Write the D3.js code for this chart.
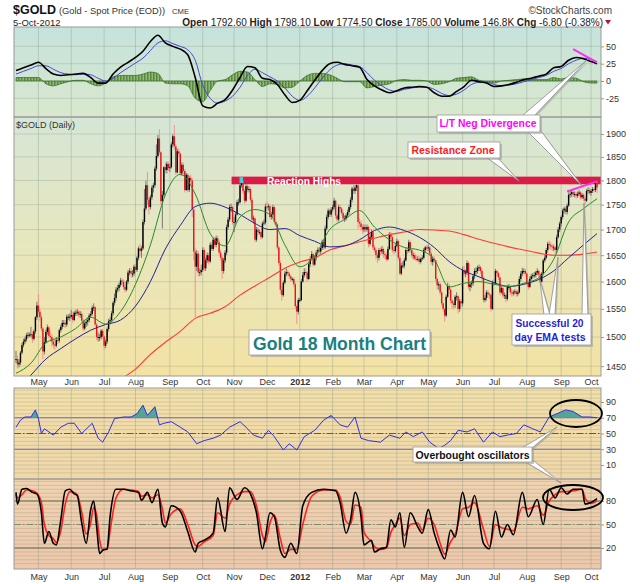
<!DOCTYPE html>
<html>
<head>
<meta charset="utf-8">
<script src="https://cdn.jsdelivr.net/npm/d3@7"></script>
<style>
  body { margin: 0; background: #fff; }
  svg text { font-family: "Liberation Sans", Arial, sans-serif; }
</style>
</head>
<body>
<svg id="chart" width="640" height="584"></svg>
<script>
// ---- data --------------------------------------------------------------
// daily closes, one row per month (Apr 2011 .. Oct 2012)
var closes = [
  1462,1453,1456,1473,1486,1492,1496,1503,1504,1504,1505,1497,1510,1535,1556,
  1545,1535,1515,1475,1491,1509,1517,1502,1500,1492,1487,1485,1495,1494,1512,1518,1525,1525,1522,1536,1536,1536,
  1539,1530,1543,1543,1545,1540,1541,1529,1515,1524,1527,1530,1538,1541,1552,1553,1522,1500,1500,1500,1511,1501,
  1485,1492,1514,1528,1530,1542,1561,1570,1585,1588,1594,1602,1600,1590,1585,1600,1617,1620,1615,1615,1628,
  1622,1645,1663,1658,1663,1715,1742,1790,1760,1745,1765,1785,1790,1825,1852,1890,1860,1757,1770,1828,1822,1835,1826,
  1828,1877,1895,1873,1817,1862,1857,1815,1833,1820,1780,1812,1780,1805,1800,1740,1657,1628,1653,1617,1618,1622,
  1660,1625,1640,1650,1638,1670,1662,1680,1670,1683,1675,1655,1645,1620,1640,1655,1705,1720,1745,1745,1715,
  1715,1730,1755,1755,1790,1795,1778,1758,1788,1780,1782,1760,1720,1722,1680,1700,1695,1695,1685,1712,1714,1746,
  1745,1747,1725,1730,1745,1715,1710,1665,1635,1585,1575,1598,1615,1618,1615,1610,1605,1605,1595,1555,1545,1566,
  1566,1600,1612,1618,1617,1605,1633,1643,1652,1632,1645,1655,1660,1657,1664,1676,1665,1702,1725,1738,1730,1740,
  1745,1758,1728,1720,1745,1742,1733,1722,1722,1728,1735,1745,1760,1783,1778,1785,1790,1715,1712,1705,1700,
  1705,1700,1705,1672,1685,1695,1665,1660,1650,1645,1660,1657,1662,1652,1650,1642,1662,1690,1685,1660,1658,1668,
  1677,1645,1615,1630,1630,1640,1660,1658,1675,1660,1650,1650,1643,1642,1643,1637,1643,1645,1660,1665,1664,
  1665,1653,1637,1643,1640,1605,1593,1595,1580,1560,1550,1538,1572,1592,1585,1565,1560,1557,1572,1573,1550,1564,1560,
  1622,1615,1617,1635,1590,1595,1597,1610,1620,1620,1626,1627,1620,1607,1566,1570,1580,1577,1575,1550,1598,
  1597,1620,1616,1608,1580,1588,1575,1575,1568,1590,1590,1580,1578,1580,1582,1577,1580,1605,1615,1620,1620,1615,
  1598,1590,1605,1610,1612,1612,1617,1620,1613,1600,1615,1640,1645,1660,1672,1670,1667,1665,1665,1660,1685,1700,1712,
  1725,1738,1742,1735,1748,1770,1772,1776,1770,1772,1768,1772,1775,1765,1770,1762,1758,1778,1780,1774,
  1778,1782,1780,1795,1785
];
var highs = [
  1476,1468,1462,1476,1490,1497,1500,1507,1509,1508,1518,1510,1513,1537,1563,
  1577,1550,1540,1518,1500,1513,1522,1520,1510,1505,1498,1495,1500,1500,1515,1522,1530,1530,1530,1540,1540,1542,
  1548,1545,1546,1548,1550,1548,1546,1545,1532,1528,1532,1535,1542,1546,1556,1560,1555,1525,1508,1505,1514,1514,
  1503,1496,1517,1532,1535,1546,1564,1578,1590,1594,1598,1607,1606,1604,1595,1603,1622,1625,1626,1622,1632,
  1634,1648,1667,1672,1668,1720,1782,1800,1818,1765,1770,1790,1795,1830,1877,1898,1911,1862,1778,1830,1838,1840,1840,
  1835,1882,1900,1920,1878,1868,1868,1860,1838,1838,1824,1816,1815,1810,1812,1805,1745,1665,1660,1658,1625,1632,
  1665,1665,1645,1655,1655,1675,1675,1685,1685,1688,1688,1680,1660,1650,1645,1660,1710,1725,1750,1752,1748,
  1725,1735,1760,1762,1795,1802,1800,1782,1792,1792,1788,1785,1765,1728,1725,1705,1705,1700,1698,1716,1720,1752,
  1755,1752,1750,1735,1750,1748,1720,1712,1668,1640,1592,1602,1620,1625,1622,1618,1612,1608,1608,1598,1558,1570,
  1570,1605,1618,1625,1625,1620,1638,1648,1658,1655,1650,1660,1665,1665,1668,1680,1680,1708,1730,1742,1742,1745,
  1750,1764,1760,1732,1750,1750,1745,1738,1728,1732,1740,1750,1765,1787,1790,1790,1792,1792,1722,1718,1710,
  1710,1710,1710,1708,1690,1700,1698,1670,1665,1655,1664,1665,1668,1665,1658,1655,1667,1695,1695,1688,1665,1672,
  1682,1680,1648,1635,1638,1645,1664,1665,1680,1678,1662,1655,1655,1650,1648,1648,1646,1650,1664,1668,1670,
  1670,1668,1656,1648,1648,1642,1608,1600,1598,1582,1562,1552,1576,1598,1595,1588,1568,1564,1575,1580,1575,1568,1568,
  1628,1630,1622,1640,1638,1600,1602,1614,1625,1627,1630,1632,1630,1624,1610,1575,1584,1585,1580,1578,1602,
  1605,1624,1622,1618,1610,1592,1590,1580,1578,1594,1596,1592,1585,1584,1586,1585,1584,1610,1620,1626,1625,1624,
  1618,1602,1610,1615,1616,1618,1620,1625,1622,1616,1618,1643,1650,1664,1676,1678,1675,1672,1670,1668,1690,1705,1716,
  1728,1742,1746,1746,1752,1775,1778,1780,1780,1777,1776,1777,1780,1778,1774,1773,1766,1782,1786,1784,
  1782,1786,1786,1798,1798
];
var lows = [
  1455,1446,1448,1452,1470,1482,1488,1492,1498,1500,1500,1490,1494,1506,1530,
  1540,1528,1510,1462,1470,1488,1504,1498,1492,1484,1480,1478,1482,1488,1490,1508,1514,1518,1516,1518,1530,1528,
  1532,1525,1528,1537,1538,1535,1534,1525,1510,1512,1518,1520,1526,1534,1538,1546,1518,1495,1492,1493,1496,1497,
  1478,1481,1488,1510,1522,1526,1538,1556,1565,1580,1582,1590,1594,1585,1580,1582,1596,1612,1608,1608,1610,
  1615,1618,1640,1650,1645,1660,1710,1738,1750,1730,1740,1760,1775,1785,1820,1848,1855,1750,1702,1765,1815,1815,1820,
  1818,1825,1870,1865,1812,1815,1850,1810,1810,1812,1775,1778,1775,1776,1792,1725,1640,1535,1620,1610,1610,1612,
  1618,1620,1620,1635,1632,1635,1658,1658,1665,1665,1670,1650,1640,1605,1615,1635,1650,1700,1715,1735,1710,
  1695,1710,1728,1748,1752,1785,1772,1752,1755,1775,1775,1755,1715,1712,1675,1676,1688,1690,1680,1682,1708,1710,
  1738,1738,1720,1720,1725,1710,1705,1660,1630,1578,1565,1572,1595,1610,1610,1605,1600,1600,1590,1550,1523,1540,
  1562,1564,1598,1608,1610,1600,1603,1628,1640,1628,1630,1640,1650,1650,1652,1660,1660,1662,1698,1720,1725,1725,
  1735,1740,1722,1715,1716,1735,1728,1718,1715,1718,1724,1730,1740,1755,1772,1772,1778,1700,1705,1698,1692,
  1695,1695,1696,1665,1668,1680,1660,1655,1642,1635,1640,1650,1652,1645,1643,1638,1640,1660,1680,1655,1652,1655,
  1665,1640,1612,1612,1625,1625,1638,1652,1655,1655,1645,1642,1640,1638,1638,1632,1634,1640,1642,1655,1658,
  1658,1648,1632,1630,1635,1600,1585,1585,1575,1555,1545,1527,1535,1570,1578,1560,1550,1550,1552,1565,1542,1545,1552,
  1555,1610,1608,1612,1585,1582,1588,1592,1605,1613,1615,1620,1615,1602,1562,1562,1565,1570,1568,1545,1548,
  1592,1595,1610,1603,1575,1578,1570,1568,1562,1565,1585,1575,1572,1574,1576,1572,1573,1578,1600,1610,1614,1610,
  1594,1585,1588,1602,1605,1607,1608,1612,1608,1595,1598,1612,1636,1642,1655,1662,1660,1658,1658,1652,1655,1682,1695,
  1706,1720,1732,1730,1730,1745,1764,1766,1765,1765,1762,1764,1768,1760,1762,1757,1750,1755,1772,1770,
  1768,1774,1775,1776,1774
];

// moving averages, read every 10 trading days
var maStep = 10;
var ema20 = [1438,1455,1490,1500,1515,1535,1523,1545,1595,1670,1770,1813,1772,1692,1668,1725,1740,1730,1670,1628,
             1648,1700,1720,1738,1705,1680,1665,1660,1642,1590,1597,1600,1595,1591,1597,1607,1642,1715,1742,1762];
var sma50 = [1410,1435,1462,1480,1497,1512,1522,1530,1555,1600,1662,1708,1746,1753,1745,1730,1712,1700,1702,1688,
             1677,1666,1668,1680,1698,1705,1698,1685,1665,1638,1620,1609,1598,1591,1595,1604,1620,1645,1670,1692];
var sma200Start = 60;
var sma200 = [1410,1428,1445,1470,1491,1510,1533,1542,1554,1575,1592,1608,1625,1637,1645,1660,1668,1676,1683,1690,
              1695,1700,1699,1697,1690,1681,1673,1666,1660,1654,1650,1650,1652,1656];

// MACD(12,26,9), read every 5 trading days
var macdStep = 5;
var macdLine = [15,19,23,27,18,10,8,9,10,11, 5,-3,-3,10,20,27,34,43,57,66,
                55,50,46,38,5,-36,-39,-32,-27,-13, 5,21,19,4,2,-5,-20,-31,-28,-14,
                1,15,25,27,24,22,20,2,-7,-13, -17,-14,-10,-9,-8,-9,-17,-22,-22,-15,
                -8,1,-1,-3,-8,-7,-5,-2,2,4, 7,10,19,21,30,34,32,28, 25];
var macdSignal = [10,14,18,22,22,17,12,10,9,10, 9,4,0,4,12,19,26,33,44,55,
                  58,54,50,45,30,-6,-25,-32,-29,-22, -9,8,17,12,6,0,-10,-22,-28,-22,
                  -10,4,16,23,25,23,21,12,1,-7, -13,-15,-12,-10,-9,-9,-12,-18,-21,-19,
                  -13,-5,-2,-2,-5,-7,-6,-4,-1,2, 5,8,14,18,25,30,33,31, 28];
var macdHist = [5,5,5,5,-4,-7,-4,-1,1,1, -4,-7,-3,6,8,8,8,10,13,11,
                -3,-4,-4,-7,-25,-30,-14,0,2,9, 14,13,2,-8,-4,-5,-10,-9,0,8,
                11,11,9,4,-1,-1,-1,-10,-8,-6, -4,1,2,1,1,0,-5,-4,-1,4,
                5,6,1,-1,-3,0,1,2,3,2, 2,2,5,3,5,4,-1,-3, -3];

// RSI(14) at turning points (trading-day index, value)
var rsiDays = [0,3,6,10,13,15,17,19,25,30,35,39,44,51,55,58,62,66,72,77,81,85,88,93,96,99,104,110,115,121,
               126,132,137,143,150,154,159,165,169,173,179,183,188,193,200,206,211,217,222,227,231,236,244,250,257,261,266,272,277,283,
               287,291,296,302,307,313,319,324,329,335,340,346,351,357,362,368,373,379,384,389];
var rsiVals = [58,67,71,71,80,69,50,56,48,58,63,63,50,63,44,39,52,69,71,71,75,86,73,84,61,63,65,58,52,37,
               41,44,48,58,65,58,48,44,54,46,29,37,29,46,54,67,73,61,58,71,44,41,39,48,44,52,46,52,39,31,
               35,41,54,52,56,39,52,46,48,50,61,56,52,71,75,80,78,71,71,70];

// slow stochastics %K / %D at turning points
var stochDays = [0,1,4,7,11,14,17,19,22,25,27,30,33,36,39,41,44,47,50,52,54,56,58,61,63,67,72,77,82,84,
                 88,91,95,98,100,104,110,115,120,122,126,132,135,140,143,148,153,157,161,165,167,170,173,177,180,184,188,192,198,206,
                 214,217,221,224,227,231,233,238,240,244,248,251,254,257,260,264,269,272,276,280,284,287,291,294,299,303,307,313,317,321,
                 325,329,333,339,343,349,353,357,361,365,369,373,379,381,385,389];
var stochK = [91,76,95,96,91,89,65,26,41,26,24,56,93,95,89,87,52,26,69,80,47,13,17,19,60,95,95,93,91,81,
              91,78,95,52,47,74,67,41,15,26,30,39,84,41,97,82,97,89,65,19,34,65,60,17,8,26,13,74,91,95,
              93,78,39,56,91,60,24,30,15,19,21,56,47,65,21,65,47,39,69,39,17,6,43,34,91,60,87,26,19,67,
              34,50,37,91,60,82,50,95,84,97,89,95,95,76,78,83];
var stochD = [88,84,88,94,93,90,78,50,36,32,27,42,76,92,91,88,66,38,52,72,62,30,18,18,42,84,95,94,92,86,
              88,84,88,70,52,64,70,50,24,22,28,36,65,58,76,88,92,92,74,36,28,52,62,32,13,18,18,50,86,94,
              94,85,54,50,75,72,40,28,22,18,20,40,50,58,36,50,52,43,58,50,26,12,28,37,70,72,78,44,22,50,
              46,44,42,72,70,74,62,80,88,92,92,93,95,84,77,80];

// divergence lines drawn by the author
var divPriceDays = [369, 389], divPriceVals = [1777, 1798];
var divMacdDays = [373, 389], divMacdVals = [46, 27];

var monthLabels = ["May","Jun","Jul","Aug","Sep","Oct","Nov","Dec","2012","Feb","Mar","Apr","May","Jun","Jul","Aug","Sep","Oct"];
var priceTicks = [1450,1500,1550,1600,1650,1700,1750,1800,1850,1900];
var macdTicks = [50,25,0,-25];
var rsiTicks = [90,70,50,30,10];
var stochTicks = [80,50,20];

// ---- layout ---------------------------------------------------------------
var L = 14, R = 601;
var svg = d3.select("#chart");
var defs = svg.append("defs");

var days = d3.utcDay.range(new Date(Date.UTC(2011, 3, 11)), new Date(Date.UTC(2012, 9, 6)))
  .filter(function(d) { var w = d.getUTCDay(); return w !== 0 && w !== 6; });
var n = days.length;
var dayKey = d3.utcFormat("%Y-%m-%d");

var x = d3.scalePoint().domain(days.map(dayKey)).range([16, 597]);
function xi(i) { return x(dayKey(days[Math.min(i, n - 1)])); }

var yM = d3.scaleLinear().domain([-52, 78]).range([117, 27]);
var yP = d3.scaleLog().domain([1433.5, 1938]).range([376, 117]);
var yR = d3.scaleLinear().domain([-7.8, 107.8]).range([479, 388]);
var yS = d3.scaleLinear().domain([-6.8, 108.1]).range([569, 479]);

var monthStarts = [];
days.forEach(function(d, i) {
  if (i > 0 && d.getUTCMonth() !== days[i - 1].getUTCMonth()) monthStarts.push(dayKey(d));
});
var labelOf = {};
monthStarts.forEach(function(k, i) { labelOf[k] = monthLabels[i]; });

function vGrad(id, stops) {
  var g = defs.append("linearGradient").attr("id", id)
    .attr("x1", 0).attr("y1", 0).attr("x2", 0).attr("y2", 1);
  stops.forEach(function(s) { g.append("stop").attr("offset", s[0]).attr("stop-color", s[1]); });
}
vGrad("gMacd", [[0, "#c5e3dc"], [1, "#d9e8cd"]]);
vGrad("gPrice", [[0, "#d5e6d6"], [0.5, "#e8e7bd"], [1, "#f3e2a3"]]);
vGrad("gRsi", [[0, "#f2e0a9"], [1, "#f0d7aa"]]);
vGrad("gStoch", [[0, "#f0d3b0"], [1, "#edc8ac"]]);

var hp = defs.append("pattern").attr("id", "histPat").attr("patternUnits", "userSpaceOnUse")
  .attr("width", 1.5).attr("height", 10);
hp.append("rect").attr("width", 1.5).attr("height", 10).attr("fill", "#a3c582");
hp.append("rect").attr("width", 0.6).attr("height", 10).attr("fill", "#2f6a1e");

function panel(name, top, bottom, grad, yScale, gridVals) {
  defs.append("clipPath").attr("id", "clip-" + name).append("rect")
    .attr("x", L).attr("y", top).attr("width", R - L).attr("height", bottom - top);
  svg.append("rect").attr("x", L).attr("y", top).attr("width", R - L).attr("height", bottom - top)
    .attr("fill", "url(#" + grad + ")");
  var g = svg.append("g").attr("clip-path", "url(#clip-" + name + ")");
  g.selectAll(".hg").data(gridVals).join("line")
    .attr("x1", L).attr("x2", R)
    .attr("y1", function(d) { return yScale(d); }).attr("y2", function(d) { return yScale(d); })
    .attr("stroke", "rgba(110,120,100,0.22)").attr("stroke-width", 1);
  g.selectAll(".vg").data(monthStarts).join("line")
    .attr("x1", function(d) { return x(d); }).attr("x2", function(d) { return x(d); })
    .attr("y1", top).attr("y2", bottom)
    .attr("stroke", "rgba(110,130,120,0.28)").attr("stroke-width", 1);
  return g;
}

var gM = panel("macd", 27, 117, "gMacd", yM, [50, 25, 0, -25]);
var gP = panel("price", 117, 376, "gPrice", yP, priceTicks);
var gR = panel("rsi", 388, 479, "gRsi", yR, d3.range(0, 106, 5));
var gS = panel("stoch", 479, 569, "gStoch", yS, d3.range(0, 106, 5));

function seqLine(daysArr, yScale, curve) {
  return d3.line()
    .x(function(d, k) { return xi(daysArr[k]); })
    .y(function(d) { return yScale(d); })
    .curve(curve || d3.curveLinear);
}
function stepDays(arr, step, start) {
  return arr.map(function(v, k) { return Math.min((start || 0) + k * step, n - 1); });
}

// ---- MACD panel ---------------------------------------------------------
var macdDays = stepDays(macdLine, macdStep);
gM.append("path").datum(macdHist)
  .attr("d", d3.area().x(function(d, k) { return xi(macdDays[k]); })
    .y0(yM(0)).y1(function(d) { return yM(d); }).curve(d3.curveMonotoneX))
  .attr("fill", "url(#histPat)").attr("stroke", "#2f6a1e").attr("stroke-width", 0.7);
gM.append("path").datum(macdSignal).attr("d", seqLine(macdDays, yM, d3.curveMonotoneX))
  .attr("fill", "none").attr("stroke", "#4646d8").attr("stroke-width", 1);
gM.append("path").datum(macdLine).attr("d", seqLine(macdDays, yM, d3.curveMonotoneX))
  .attr("fill", "none").attr("stroke", "#000").attr("stroke-width", 1.6);
gM.append("path").datum(divMacdVals).attr("d", seqLine(divMacdDays, yM))
  .attr("fill", "none").attr("stroke", "#ff2ef0").attr("stroke-width", 2);

// ---- price panel --------------------------------------------------------
var bandLeft = xi(145) - 1;
gP.append("rect").attr("x", bandLeft).attr("width", R - bandLeft)
  .attr("y", yP(1808)).attr("height", yP(1792) - yP(1808)).attr("fill", "#dc1a48");

var candles = gP.append("g");
candles.selectAll("line").data(closes).join("line")
  .attr("x1", function(d, i) { return xi(i); }).attr("x2", function(d, i) { return xi(i); })
  .attr("y1", function(d, i) { return yP(highs[i]); }).attr("y2", function(d, i) { return yP(lows[i]); })
  .attr("stroke", function(d, i) { return i > 0 && d < closes[i - 1] ? "#f08a8a" : "#6a6a6a"; })
  .attr("stroke-width", 0.9);
candles.selectAll("rect").data(closes).join("rect")
  .attr("x", function(d, i) { return xi(i) - 0.7; }).attr("width", 1.4)
  .attr("y", function(d, i) { var o = i > 0 ? closes[i - 1] : d; return yP(Math.max(o, d)); })
  .attr("height", function(d, i) {
    var o = i > 0 ? closes[i - 1] : d;
    return Math.max(1, yP(Math.min(o, d)) - yP(Math.max(o, d)));
  })
  .attr("fill", function(d, i) { return i > 0 && d < closes[i - 1] ? "#e8141a" : "#000"; });

gP.append("path").datum(sma200).attr("d", seqLine(stepDays(sma200, maStep, sma200Start), yP, d3.curveMonotoneX))
  .attr("fill", "none").attr("stroke", "#ff3a3a").attr("stroke-width", 1.1);
gP.append("path").datum(sma50).attr("d", seqLine(stepDays(sma50, maStep), yP, d3.curveMonotoneX))
  .attr("fill", "none").attr("stroke", "#22229a").attr("stroke-width", 1);
gP.append("path").datum(ema20).attr("d", seqLine(stepDays(ema20, maStep), yP, d3.curveMonotoneX))
  .attr("fill", "none").attr("stroke", "#2a8a2a").attr("stroke-width", 1);
gP.append("rect").attr("x", xi(151) - 2).attr("y", yP(1807)).attr("width", 3.5).attr("height", 6)
  .attr("fill", "#3fd0e0");
gP.append("path").datum(divPriceVals).attr("d", seqLine(divPriceDays, yP))
  .attr("fill", "none").attr("stroke", "#ff2ef0").attr("stroke-width", 2);
gP.append("text").attr("x", 16).attr("y", 127.5).text("$GOLD (Daily)")
  .attr("font-family", "DejaVu Sans Mono, monospace").attr("font-size", 9).attr("fill", "#333");
gP.append("text").attr("x", 304).attr("y", 184.5).attr("text-anchor", "middle")
  .attr("font-size", 10.5).attr("font-weight", "bold").attr("fill", "#fff")
  .attr("textLength", 74).attr("lengthAdjust", "spacingAndGlyphs").text("Reaction Highs");

// ---- RSI panel ----------------------------------------------------------
defs.append("clipPath").attr("id", "clipOver").append("rect")
  .attr("x", L).attr("y", 388).attr("width", R - L).attr("height", yR(70) - 388);
defs.append("clipPath").attr("id", "clipUnder").append("rect")
  .attr("x", L).attr("y", yR(30)).attr("width", R - L).attr("height", 479 - yR(30));
gR.append("path").datum(rsiVals)
  .attr("d", d3.area().x(function(d, k) { return xi(rsiDays[k]); }).y0(yR(70)).y1(function(d) { return yR(d); }))
  .attr("clip-path", "url(#clipOver)").attr("fill", "#55a597");
gR.append("path").datum(rsiVals)
  .attr("d", d3.area().x(function(d, k) { return xi(rsiDays[k]); }).y0(yR(30)).y1(function(d) { return yR(d); }))
  .attr("clip-path", "url(#clipUnder)").attr("fill", "#55a597");
[70, 30].forEach(function(v) {
  gR.append("line").attr("x1", L).attr("x2", R).attr("y1", yR(v)).attr("y2", yR(v))
    .attr("stroke", "#6e6ed2").attr("stroke-width", 1.2);
});
gR.append("line").attr("x1", L).attr("x2", R).attr("y1", yR(50)).attr("y2", yR(50))
  .attr("stroke", "#4c4cc8").attr("stroke-width", 1).attr("stroke-dasharray", "7,2,1.5,2");
gR.append("path").datum(rsiVals).attr("d", seqLine(rsiDays, yR))
  .attr("fill", "none").attr("stroke", "#2f2fe0").attr("stroke-width", 1);

// ---- stochastics panel ------------------------------------------------------
[80, 20].forEach(function(v) {
  gS.append("line").attr("x1", L).attr("x2", R).attr("y1", yS(v)).attr("y2", yS(v))
    .attr("stroke", "#5d6b50").attr("stroke-width", 1.2);
});
gS.append("line").attr("x1", L).attr("x2", R).attr("y1", yS(50)).attr("y2", yS(50))
  .attr("stroke", "#74906e").attr("stroke-width", 1).attr("stroke-dasharray", "7,2,1.5,2");
gS.append("path").datum(stochD).attr("d", seqLine(stochDays, yS, d3.curveMonotoneX))
  .attr("fill", "none").attr("stroke", "#ff2020").attr("stroke-width", 1.6);
gS.append("path").datum(stochK).attr("d", seqLine(stochDays, yS, d3.curveMonotoneX))
  .attr("fill", "none").attr("stroke", "#000").attr("stroke-width", 1.6);

// ---- frames & axes --------------------------------------------------------
[[27, 117], [117, 376], [388, 479], [479, 569]].forEach(function(p) {
  svg.append("rect").attr("x", L).attr("y", p[0]).attr("width", R - L).attr("height", p[1] - p[0])
    .attr("fill", "none").attr("stroke", "#9a9a9a").attr("stroke-width", 1);
});

function rightAxis(scale, ticks) {
  var g = svg.append("g").attr("transform", "translate(" + R + ",0)")
    .call(d3.axisRight(scale).tickValues(ticks).tickSize(3).tickPadding(2)
      .tickFormat(function(d) { return String(d); }));
  g.select(".domain").remove();
  g.selectAll("line").attr("stroke", "#999");
  g.selectAll("text").attr("font-size", 9).attr("fill", "#333")
    .attr("font-family", "Liberation Sans, Arial, sans-serif");
}
rightAxis(yM, macdTicks);
rightAxis(yP, priceTicks);
rightAxis(yR, rsiTicks);
rightAxis(yS, stochTicks);

function monthAxis(yPos, pad) {
  var g = svg.append("g").attr("transform", "translate(0," + yPos + ")")
    .call(d3.axisBottom(x).tickValues(monthStarts).tickSize(0).tickPadding(pad)
      .tickFormat(function(k) { return labelOf[k]; }));
  g.select(".domain").remove();
  g.selectAll("text").attr("font-size", 9).attr("fill", "#333")
    .attr("font-family", "Liberation Sans, Arial, sans-serif")
    .attr("font-weight", function(k) { return labelOf[k] === "2012" ? "bold" : null; });
}
monthAxis(376, 3);
monthAxis(569, 5);

// ---- header ---------------------------------------------------------------
svg.append("text").attr("x", 13).attr("y", 13.5).attr("font-size", 12).attr("font-weight", "bold")
  .attr("fill", "#111").attr("textLength", 43).attr("lengthAdjust", "spacingAndGlyphs").text("$GOLD");
svg.append("text").attr("x", 59).attr("y", 13.5).attr("font-size", 9.5).attr("fill", "#333")
  .attr("textLength", 106).attr("lengthAdjust", "spacingAndGlyphs").text("(Gold - Spot Price (EOD))");
svg.append("text").attr("x", 172).attr("y", 13.5).attr("font-size", 7.5).attr("fill", "#333")
  .attr("textLength", 17).attr("lengthAdjust", "spacingAndGlyphs").text("CME");
svg.append("text").attr("x", 612).attr("y", 13.5).attr("text-anchor", "end").attr("font-size", 10)
  .attr("fill", "#444").text("\u00a9StockCharts.com");
svg.append("text").attr("x", 13).attr("y", 25.5).attr("font-size", 9.5).attr("fill", "#222").text("5-Oct-2012");

var quote = [["Open", "1792.60"], ["High", "1798.10"], ["Low", "1774.50"], ["Close", "1785.00"],
             ["Volume", "146.8K"], ["Chg", "-6.80 (-0.38%)"]];
var qt = svg.append("text").attr("x", 603).attr("y", 25.5).attr("text-anchor", "end")
  .attr("font-size", 10).attr("fill", "#222");
quote.forEach(function(q, i) {
  qt.append("tspan").attr("font-weight", "bold").text((i ? "  " : "") + q[0]);
  qt.append("tspan").text(" " + q[1]);
});
svg.append("path").attr("d", "M605,20L611,20L608,24.5Z").attr("fill", "#c8102e");

// ---- annotations ------------------------------------------------------------
var ann = svg.append("g");
function wedge(b1, b2, tip) {
  var d = "M" + b1 + "L" + tip + "L" + b2 + "Z";
  ann.append("path").attr("d", d).attr("transform", "translate(1.5,1.5)").attr("fill", "#999").attr("opacity", 0.5);
  ann.append("path").attr("d", d).attr("fill", "#fff").attr("stroke", "#8a8a8a").attr("stroke-width", 0.8);
}
function box(x0, y0, w, h) {
  ann.append("rect").attr("x", x0 + 2).attr("y", y0 + 2).attr("width", w).attr("height", h)
    .attr("fill", "#999").attr("opacity", 0.55);
  ann.append("rect").attr("x", x0).attr("y", y0).attr("width", w).attr("height", h)
    .attr("fill", "#fff").attr("stroke", "#9a9a9a").attr("stroke-width", 0.8);
}
function label(cx, by, txt, color, size, len) {
  ann.append("text").attr("x", cx).attr("y", by).attr("text-anchor", "middle")
    .attr("font-size", size).attr("font-weight", "bold").attr("fill", color)
    .attr("textLength", len).attr("lengthAdjust", "spacingAndGlyphs").text(txt);
}

wedge([486, 157], [497, 157], [519, 181]);
box(408, 142, 92, 16);
label(453, 153.5, "Resistance Zone", "#ff1a1a", 10.5, 83);

wedge([522, 116], [534, 116], [588, 59]);
wedge([527, 131], [538, 127], [582, 186]);
box(437, 115, 103, 17);
label(488, 127, "L/T Neg Divergence", "#ff00ff", 10.5, 97);

box(249, 330, 181, 25);
label(339.5, 349.5, "Gold 18 Month Chart", "#1b7f7f", 18, 173);

wedge([544, 315], [550, 315], [540, 280]);
wedge([549, 315], [555, 315], [558, 257]);
wedge([582, 315], [588, 315], [584, 203]);
box(512, 314, 79, 31);
label(549.5, 326.5, "Successful 20", "#1f1fd8", 10.5, 68);
label(550, 340.5, "day EMA tests", "#1f1fd8", 10.5, 71);

wedge([522, 448], [532, 448], [557, 427]);
wedge([524, 461], [534, 461], [561, 483]);
box(413, 447, 119, 15);
label(472.5, 458.5, "Overbought oscillators", "#111", 10.5, 114);

ann.append("ellipse").attr("cx", 576).attr("cy", 413.5).attr("rx", 26).attr("ry", 13.5)
  .attr("fill", "none").attr("stroke", "#000").attr("stroke-width", 1.8);
ann.append("ellipse").attr("cx", 573).attr("cy", 497.5).attr("rx", 30).attr("ry", 12.5)
  .attr("fill", "none").attr("stroke", "#000").attr("stroke-width", 1.8);
</script>
</body>
</html>
